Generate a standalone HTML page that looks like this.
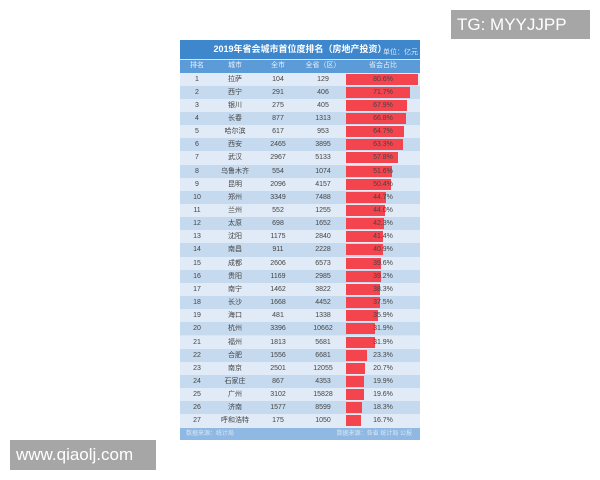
<!DOCTYPE html><html><head><meta charset="utf-8"><style>
body{margin:0;width:600px;height:480px;background:#fff;position:relative;overflow:hidden;font-family:"Liberation Sans","Noto Sans CJK SC",sans-serif}
.wm{position:absolute;background:#a6a6a6;color:#fff;font-size:17px;line-height:30px;padding-left:6px}
#t{position:absolute;left:180px;top:40px;width:240px;height:400px;background:#d6e5f4}
.title{position:absolute;left:0;top:0;width:240px;height:19px;background:#3f87cc;color:#fff;font-size:9px;font-weight:bold;line-height:19px;text-align:center}
.unit{position:absolute;right:2px;top:8px;font-size:7px;color:#dbe8f6;font-weight:normal;line-height:10px}
.hd{position:absolute;top:20px;height:12.5px;width:240px;background:#5b9bd8;color:#e8f1fb;font-size:7px;line-height:12.5px}
.row{position:absolute;left:0;width:240px;height:13.15px;font-size:7px;line-height:13.15px;color:#444}
.c{position:absolute;top:0;text-align:center;height:100%}
.bar{position:absolute;left:166px;top:1px;height:11px;background:#f4444e}
.ft{position:absolute;left:0;top:388px;width:240px;height:12px;background:#8fb8e3;color:#d9e7f5;font-size:6px;line-height:12px}
</style></head><body>
<div class="wm" style="left:451px;top:10px;width:133px;height:29px">TG: MYYJJPP</div>
<div class="wm" style="left:10px;top:440px;width:140px;height:30px">www.qiaolj.com</div>
<div id="t">
<div class="title">2019年省会城市首位度排名（房地产投资）<span class="unit">单位：亿元</span></div>
<div class="hd"><span class="c" style="left:0;width:34px">排名</span><span class="c" style="left:34px;width:42px">城市</span><span class="c" style="left:76px;width:44px">全市</span><span class="c" style="left:120px;width:46px">全省（区）</span><span class="c" style="left:166px;width:74px">省会占比</span></div>
<div id="rows"></div>
<div class="ft"><span style="margin-left:6px">数据来源：统计局</span><span style="position:absolute;right:8px">数据来源：各省 统计局 公报</span></div>
</div>
<script>
var d=[["拉萨",104,129,80.6],["西宁",291,406,71.7],["银川",275,405,67.9],["长春",877,1313,66.8],["哈尔滨",617,953,64.7],["西安",2465,3895,63.3],["武汉",2967,5133,57.8],["乌鲁木齐",554,1074,51.6],["昆明",2096,4157,50.4],["郑州",3349,7488,44.7],["兰州",552,1255,44.0],["太原",698,1652,42.3],["沈阳",1175,2840,41.4],["南昌",911,2228,40.9],["成都",2606,6573,39.6],["贵阳",1169,2985,39.2],["南宁",1462,3822,38.3],["长沙",1668,4452,37.5],["海口",481,1338,35.9],["杭州",3396,10662,31.9],["福州",1813,5681,31.9],["合肥",1556,6681,23.3],["南京",2501,12055,20.7],["石家庄",867,4353,19.9],["广州",3102,15828,19.6],["济南",1577,8599,18.3],["呼和浩特",175,1050,16.7]];
var h="";d.forEach(function(r,i){var bg=i%2?"#c6daef":"#e0ebf7";var w=(r[3]/80.6*72).toFixed(1);
h+='<div class="row" style="top:'+(32.5+i*13.15)+'px;background:'+bg+'"><span class="c" style="left:0;width:34px">'+(i+1)+'</span><span class="c" style="left:34px;width:42px">'+r[0]+'</span><span class="c" style="left:76px;width:44px">'+r[1]+'</span><span class="c" style="left:120px;width:46px">'+r[2]+'</span><div class="bar" style="width:'+w+'px"></div><span class="c" style="left:166px;width:74px">'+r[3].toFixed(1)+'%</span></div>';});
document.getElementById("rows").innerHTML=h;
</script>
</body></html>
